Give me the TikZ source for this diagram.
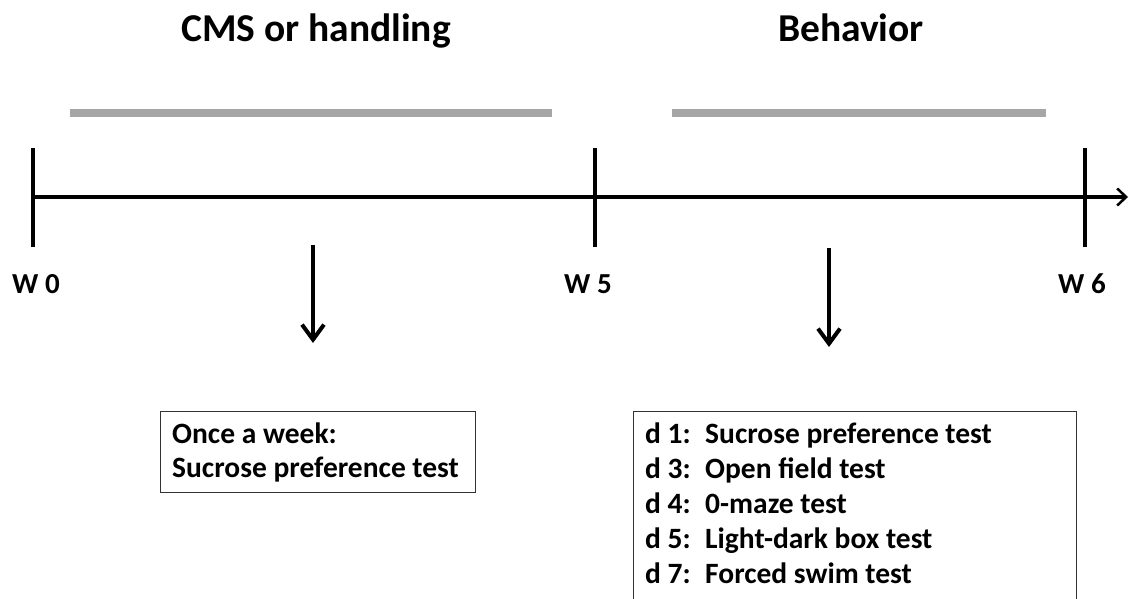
\documentclass[tikz,border=0pt]{standalone}
\usepackage{fontspec}
\setmainfont{Carlito}
\usetikzlibrary{arrows.meta}
\begin{document}
\begin{tikzpicture}[x=1pt,y=-1pt,
  title/.style={font=\fontsize{39.5}{47}\selectfont\bfseries, anchor=base, inner sep=0pt},
  wlabel/.style={font=\fontsize{29}{34}\selectfont\bfseries, anchor=base west, inner sep=0pt},
  boxtext/.style={font=\fontsize{29.5}{35}\selectfont\bfseries, anchor=base west, inner sep=0pt},
  frame/.style={draw=black!80, line width=1.3pt, anchor=north west, inner sep=0pt},
  bar/.style={line width=8pt, draw=gray!70},
  tick/.style={line width=3.5pt, draw=black},
  axis/.style={line width=4pt, draw=black, -{Straight Barb[length=9pt,width=17pt,line width=2.5pt]}},
  down/.style={line width=4pt, draw=black, -{Straight Barb[length=15pt,width=22pt,line width=4pt]}}
]
\useasboundingbox (0,0) rectangle (1129,599);
\clip (0,0) rectangle (1129,599);

% titles
\node[title] (t1) at (316,42) {CMS or handling};
\node[title] (t2) at (851,42) {Behavior};

% gray bars
\coordinate (b1s) at (70,113);
\coordinate (b1e) at (552,113);
\coordinate (b2s) at (672,113);
\coordinate (b2e) at (1046,113);
\draw[bar] (b1s) -- (b1e);
\draw[bar] (b2s) -- (b2e);

% timeline
\coordinate (w0) at (33,197);
\coordinate (w5) at (595,197);
\coordinate (w6) at (1085,197);
\coordinate (tend) at (1128,197);
\draw[axis] (w0) -- (tend);
\foreach \c in {w0,w5,w6}{
  \draw[tick] ([yshift=-50pt]\c) -- ([yshift=49pt]\c);
}

% week labels
\node[wlabel] (l0) at (12,293) {W 0};
\node[wlabel] (l5) at (564,293) {W 5};
\node[wlabel] (l6) at (1058,293) {W 6};

% down arrows
\coordinate (a1s) at (313,245);
\coordinate (a1e) at (313,343);
\coordinate (a2s) at (829,248);
\coordinate (a2e) at (829,347);
\draw[down] (a1s) -- (a1e);
\draw[down] (a2s) -- (a2e);

% box 1
\node[frame, minimum width=315pt, minimum height=81pt] (box1) at (160,411) {};
\node[boxtext] (b1l1) at (172,443) {Once a week:};
\node[boxtext] (b1l2) at (172,477) {Sucrose preference test};

% box 2
\node[frame, minimum width=443pt, minimum height=260pt] (box2) at (633,411) {};
\node[boxtext] (d1) at (645,443) {d 1:};
\node[boxtext] (e1) at (705,443) {Sucrose preference test};
\node[boxtext] (d3) at (645,478) {d 3:};
\node[boxtext] (e3) at (705,478) {Open field test};
\node[boxtext] (d4) at (645,513) {d 4:};
\node[boxtext] (e4) at (705,513) {0-maze test};
\node[boxtext] (d5) at (645,548) {d 5:};
\node[boxtext] (e5) at (705,548) {Light-dark box test};
\node[boxtext] (d7) at (645,583) {d 7:};
\node[boxtext] (e7) at (705,583) {Forced swim test};
\end{tikzpicture}
\end{document}
